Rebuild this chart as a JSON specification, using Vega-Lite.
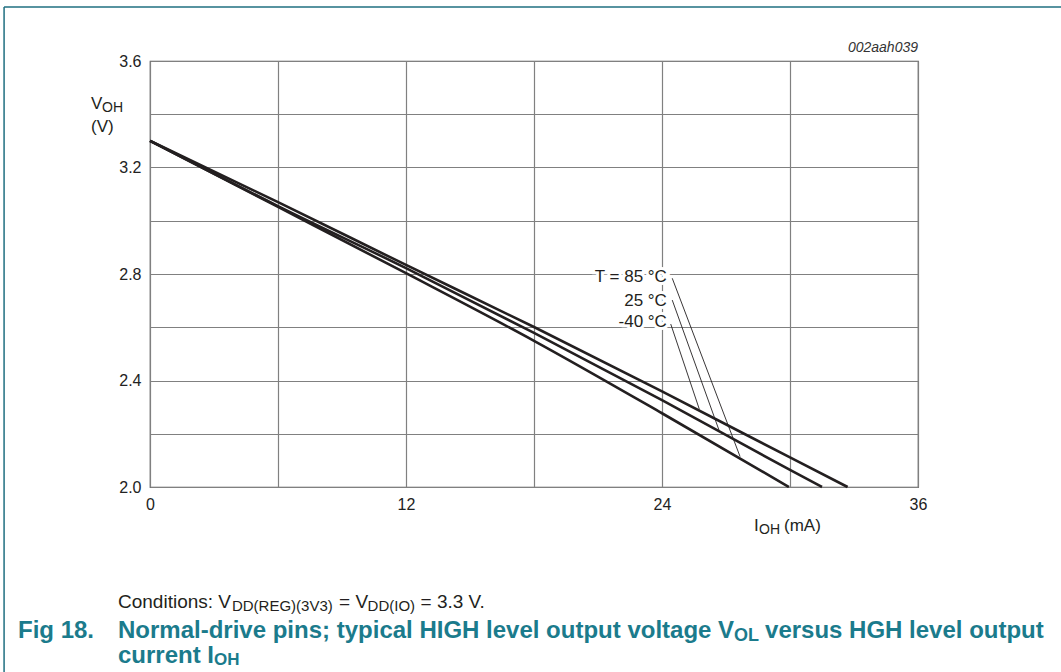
{
  "$schema": "https://vega.github.io/schema/vega-lite/v6.json",
  "width": 768,
  "height": 426,
  "autosize": {"type": "none"},
  "padding": {"left": 150, "top": 61, "right": 143, "bottom": 185},
  "background": "white",
  "data": {"values": [{}]},
  "config": {
    "font": "Liberation Sans",
    "view": {"stroke": "#555555", "strokeWidth": 1.2},
    "axis": {"domain": false, "ticks": false, "gridColor": "#808080", "gridWidth": 1.2, "gridOpacity": 1, "labelFont": "Liberation Sans", "labelFontSize": 16, "labelColor": "#222222", "title": null}
  },
  "datasets": {
    "curves": [
      {"temp": "-40 °C", "I": 0, "V": 3.30},
      {"temp": "-40 °C", "I": 6, "V": 3.07},
      {"temp": "-40 °C", "I": 12, "V": 2.834},
      {"temp": "-40 °C", "I": 18, "V": 2.601},
      {"temp": "-40 °C", "I": 24, "V": 2.359},
      {"temp": "-40 °C", "I": 30, "V": 2.111},
      {"temp": "-40 °C", "I": 32.7, "V": 2.0},
      {"temp": "25 °C", "I": 0, "V": 3.30},
      {"temp": "25 °C", "I": 6, "V": 3.055},
      {"temp": "25 °C", "I": 12, "V": 2.822},
      {"temp": "25 °C", "I": 18, "V": 2.579},
      {"temp": "25 °C", "I": 24, "V": 2.326},
      {"temp": "25 °C", "I": 30, "V": 2.064},
      {"temp": "25 °C", "I": 31.5, "V": 2.0},
      {"temp": "85 °C", "I": 0, "V": 3.30},
      {"temp": "85 °C", "I": 6, "V": 3.052},
      {"temp": "85 °C", "I": 12, "V": 2.803},
      {"temp": "85 °C", "I": 18, "V": 2.549},
      {"temp": "85 °C", "I": 24, "V": 2.277},
      {"temp": "85 °C", "I": 29.95, "V": 2.0}
    ],
    "leaders": [
      {"temp": "85 °C", "I": 24.48, "V": 2.784},
      {"temp": "85 °C", "I": 27.66, "V": 2.114},
      {"temp": "25 °C", "I": 24.48, "V": 2.702},
      {"temp": "25 °C", "I": 26.67, "V": 2.214},
      {"temp": "-40 °C", "I": 24.41, "V": 2.612},
      {"temp": "-40 °C", "I": 25.75, "V": 2.292}
    ],
    "labels": [
      {"label": "T = 85 °C", "I": 24.23, "V": 2.79},
      {"label": "25 °C", "I": 24.23, "V": 2.70},
      {"label": "-40 °C", "I": 24.23, "V": 2.62}
    ]
  },
  "layer": [
    {
      "data": {"name": "curves"},
      "mark": {"type": "line", "color": "#231f20", "strokeWidth": 2.6, "interpolate": "monotone", "clip": false},
      "encoding": {
        "x": {"field": "I", "type": "quantitative", "scale": {"domain": [0, 36], "nice": false, "zero": false},
          "axis": {"values": [0, 6, 12, 18, 24, 30, 36], "labelExpr": "datum.value % 12 === 0 ? datum.label : ''", "labelPadding": 9, "labelFlush": false}},
        "y": {"field": "V", "type": "quantitative", "scale": {"domain": [2.0, 3.6], "nice": false, "zero": false},
          "axis": {"values": [2.0, 2.2, 2.4, 2.6, 2.8, 3.0, 3.2, 3.4, 3.6], "labelExpr": "abs(round(datum.value*10) % 4) == 0 ? format(datum.value, '.1f') : ''", "labelPadding": 9}},
        "detail": {"field": "temp"}
      }
    },
    {
      "data": {"name": "labels"},
      "mark": {"type": "text", "align": "right", "baseline": "middle", "fontSize": 17, "stroke": "white", "strokeWidth": 6, "fill": "white"},
      "encoding": {"x": {"field": "I", "type": "quantitative"}, "y": {"field": "V", "type": "quantitative"}, "text": {"field": "label"}}
    },
    {
      "data": {"name": "leaders"},
      "mark": {"type": "line", "color": "#231f20", "strokeWidth": 0.9},
      "encoding": {"x": {"field": "I", "type": "quantitative"}, "y": {"field": "V", "type": "quantitative"}, "detail": {"field": "temp"}}
    },
    {
      "data": {"name": "labels"},
      "mark": {"type": "text", "align": "right", "baseline": "middle", "fontSize": 17, "color": "#231f20"},
      "encoding": {"x": {"field": "I", "type": "quantitative"}, "y": {"field": "V", "type": "quantitative"}, "text": {"field": "label"}}
    },
    {
      "mark": {"type": "text", "align": "right", "baseline": "middle", "fontSize": 14, "fontStyle": "italic", "color": "#333333"},
      "encoding": {"x": {"datum": 36}, "y": {"datum": 3.649}, "text": {"value": "002aah039"}}
    },
    {
      "mark": {"type": "text", "align": "left", "baseline": "middle", "fontSize": 17, "color": "#231f20"},
      "encoding": {"x": {"datum": -2.766}, "y": {"datum": 3.4385}, "text": {"value": "V"}}
    },
    {
      "mark": {"type": "text", "align": "left", "baseline": "middle", "fontSize": 14, "color": "#231f20"},
      "encoding": {"x": {"datum": -2.25}, "y": {"datum": 3.4235}, "text": {"value": "OH"}}
    },
    {
      "mark": {"type": "text", "align": "left", "baseline": "middle", "fontSize": 17, "color": "#231f20"},
      "encoding": {"x": {"datum": -2.766}, "y": {"datum": 3.352}, "text": {"value": "(V)"}}
    },
    {
      "mark": {"type": "text", "align": "left", "baseline": "middle", "fontSize": 17, "color": "#231f20"},
      "encoding": {"x": {"datum": 28.3125}, "y": {"datum": 1.8535}, "text": {"value": "I"}}
    },
    {
      "mark": {"type": "text", "align": "left", "baseline": "middle", "fontSize": 14, "color": "#231f20"},
      "encoding": {"x": {"datum": 28.55}, "y": {"datum": 1.8385}, "text": {"value": "OH"}}
    },
    {
      "mark": {"type": "text", "align": "left", "baseline": "middle", "fontSize": 17, "color": "#231f20"},
      "encoding": {"x": {"datum": 29.72}, "y": {"datum": 1.8535}, "text": {"value": "(mA)"}}
    },
    {
      "mark": {"type": "text", "align": "left", "baseline": "middle", "fontSize": 19, "color": "#231f20"},
      "encoding": {"x": {"datum": -1.5}, "y": {"datum": 1.5681}, "text": {"value": "Conditions: V"}}
    },
    {
      "mark": {"type": "text", "align": "left", "baseline": "middle", "fontSize": 15, "color": "#231f20"},
      "encoding": {"x": {"datum": 3.84}, "y": {"datum": 1.5531}, "text": {"value": "DD(REG)(3V3)"}}
    },
    {
      "mark": {"type": "text", "align": "left", "baseline": "middle", "fontSize": 19, "color": "#231f20"},
      "encoding": {"x": {"datum": 8.86}, "y": {"datum": 1.5681}, "text": {"value": "= V"}}
    },
    {
      "mark": {"type": "text", "align": "left", "baseline": "middle", "fontSize": 15, "color": "#231f20"},
      "encoding": {"x": {"datum": 10.2}, "y": {"datum": 1.5531}, "text": {"value": "DD(IO)"}}
    },
    {
      "mark": {"type": "text", "align": "left", "baseline": "middle", "fontSize": 19, "color": "#231f20"},
      "encoding": {"x": {"datum": 12.68}, "y": {"datum": 1.5681}, "text": {"value": "= 3.3 V."}}
    },
    {
      "mark": {"type": "text", "align": "left", "baseline": "middle", "fontSize": 24, "fontWeight": "bold", "color": "#1b7b8c"},
      "encoding": {"x": {"datum": -6.1875}, "y": {"datum": 1.4592}, "text": {"value": "Fig 18."}}
    },
    {
      "mark": {"type": "text", "align": "left", "baseline": "middle", "fontSize": 24, "fontWeight": "bold", "color": "#1b7b8c"},
      "encoding": {"x": {"datum": -1.5}, "y": {"datum": 1.4592}, "text": {"value": "Normal-drive pins; typical HIGH level output voltage V"}}
    },
    {
      "mark": {"type": "text", "align": "left", "baseline": "middle", "fontSize": 18, "fontWeight": "bold", "color": "#1b7b8c"},
      "encoding": {"x": {"datum": 27.375}, "y": {"datum": 1.4404}, "text": {"value": "OL"}}
    },
    {
      "mark": {"type": "text", "align": "left", "baseline": "middle", "fontSize": 24, "fontWeight": "bold", "color": "#1b7b8c"},
      "encoding": {"x": {"datum": 28.83}, "y": {"datum": 1.4592}, "text": {"value": "versus HGH level output"}}
    },
    {
      "mark": {"type": "text", "align": "left", "baseline": "middle", "fontSize": 24, "fontWeight": "bold", "color": "#1b7b8c"},
      "encoding": {"x": {"datum": -1.5}, "y": {"datum": 1.3653}, "text": {"value": "current I"}}
    },
    {
      "mark": {"type": "text", "align": "left", "baseline": "middle", "fontSize": 17, "fontWeight": "bold", "color": "#1b7b8c"},
      "encoding": {"x": {"datum": 3.0}, "y": {"datum": 1.3503}, "text": {"value": "OH"}}
    },
    {
      "mark": {"type": "rule", "color": "#1f6f80", "strokeWidth": 1.5},
      "encoding": {"x": {"datum": -6.84}, "x2": {"datum": 45}, "y": {"datum": 3.803}}
    },
    {
      "mark": {"type": "rule", "color": "#1f6f80", "strokeWidth": 1.5},
      "encoding": {"x": {"datum": -6.84}, "y": {"datum": 3.803}, "y2": {"datum": 1.2}}
    }
  ]
}
